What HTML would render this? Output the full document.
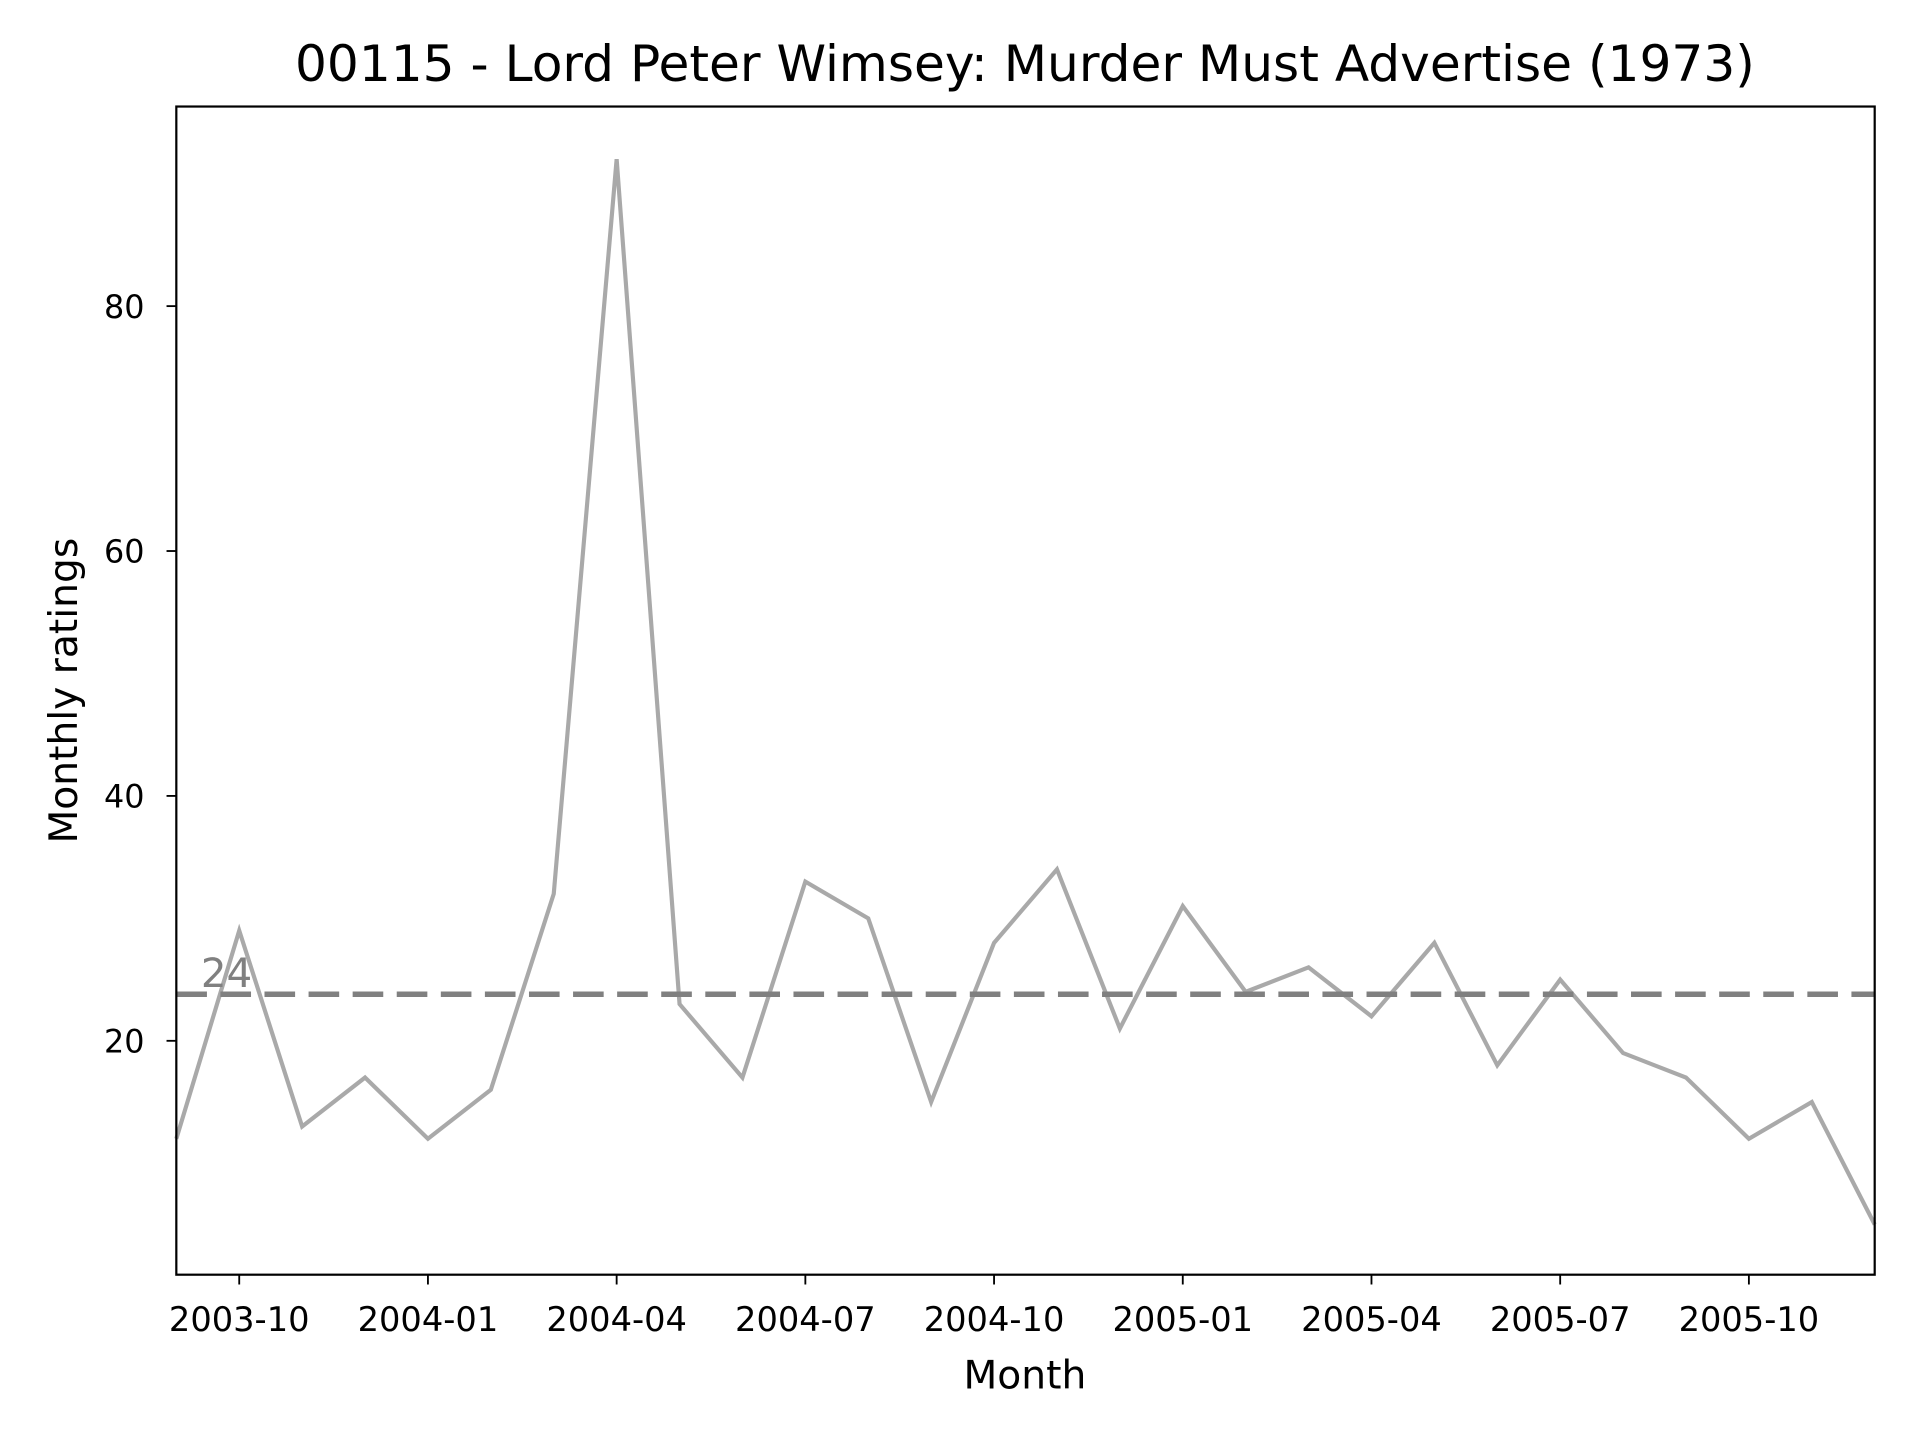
<!DOCTYPE html>
<html><head><meta charset="utf-8"><style>html,body{margin:0;padding:0;background:#fff}svg{display:block}</style></head>
<body>
<svg id="chart" width="1920" height="1440" viewBox="0 0 1568 1176" preserveAspectRatio="none" font-family="'DejaVu Sans','Liberation Sans',sans-serif">
<rect x="0" y="0" width="1568" height="1176" fill="#fff"/>
<text x="837" y="66" font-size="41" text-anchor="middle" fill="#000">00115 - Lord Peter Wimsey: Murder Must Advertise (1973)</text>
<g id="plot"></g>
<rect x="144" y="87" width="1387" height="954" fill="none" stroke="#000" stroke-width="1.8"/>
<text x="837" y="1134" font-size="32" text-anchor="middle">Month</text>
<text transform="translate(63,564) rotate(-90)" font-size="32" text-anchor="middle">Monthly ratings</text>
</svg>
<script>
const months = ["2003-09","2003-10","2003-11","2003-12","2004-01","2004-02","2004-03","2004-04","2004-05","2004-06","2004-07","2004-08","2004-09","2004-10","2004-11","2004-12","2005-01","2005-02","2005-03","2005-04","2005-05","2005-06","2005-07","2005-08","2005-09","2005-10","2005-11","2005-12"];
const ratings = [12,29,13,17,12,16,32,92,23,17,33,30,15,28,34,21,31,24,26,22,28,18,25,19,17,12,15,5];
const meanValue = 23.8;
const yTicks = [20,40,60,80];
const xTickLabels = ["2003-10","2004-01","2004-04","2004-07","2004-10","2005-01","2005-04","2005-07","2005-10"];

const NS="http://www.w3.org/2000/svg";
const L=144,R=1531,T=87,B=1041,yMin=0.9,yMax=96.3;
function xs(i){return L+(R-L)*i/(months.length-1);}
function ys(v){return B-(B-T)*(v-yMin)/(yMax-yMin);}
const g=document.getElementById('plot');
function mk(tag,attrs){const e=document.createElementNS(NS,tag);for(const k in attrs)e.setAttribute(k,attrs[k]);g.appendChild(e);return e;}

yTicks.forEach(v=>{
  const t=mk('line',{x1:L-8,x2:L,y1:ys(v),y2:ys(v),stroke:'#000','stroke-width':1.5});
  
  
  const s=mk('text',{x:L-26,y:ys(v)+9.5,'font-size':26,'text-anchor':'end'});
  s.textContent=v;
  
  
});
xTickLabels.forEach(lbl=>{
  const i=months.indexOf(lbl);
  const t=mk('line',{x1:xs(i),x2:xs(i),y1:B,y2:B+8,stroke:'#000','stroke-width':1.5});
  
  
  const s=mk('text',{x:xs(i),y:B+46,'font-size':27.5,'text-anchor':'middle'});
  s.textContent=lbl;
  
  
});
const pts=ratings.map((v,i)=>xs(i)+','+ys(v)).join(' ');
const line=mk('polyline',{points:pts,fill:'none',stroke:'#a9a9a9','stroke-width':3.4,'stroke-linejoin':'miter'});


const m=mk('line',{x1:L,x2:R,y1:ys(meanValue),y2:ys(meanValue),stroke:'#808080','stroke-width':4.5,'stroke-dasharray':'25 11'});


const ml=mk('text',{x:L+20,y:ys(meanValue)-6,'font-size':33,fill:'#808080'});
ml.textContent=Math.round(meanValue);


</script>
</body></html>
